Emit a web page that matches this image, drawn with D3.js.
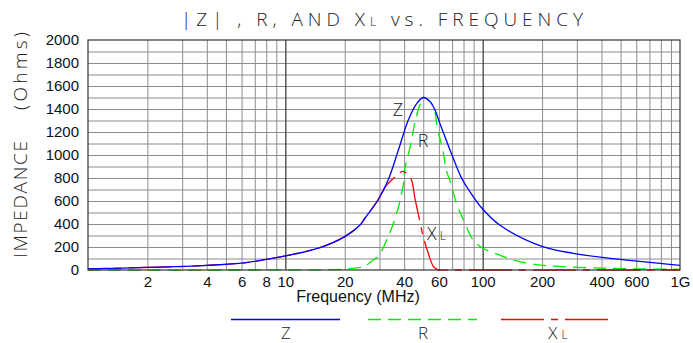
<!DOCTYPE html>
<html>
<head>
<meta charset="utf-8">
<script src="https://d3js.org/d3.v7.min.js"></script>
<style>
  html, body { margin: 0; padding: 0; background: #fff; }
  svg { display: block; }
  .thin { font-family: "Open Sans", "DejaVu Sans", sans-serif; font-weight: 300; fill: #222; }
  .num { font-family: "Liberation Sans", Arial, sans-serif; fill: #111; }
</style>
</head>
<body>
<svg id="chart" width="693" height="343"></svg>
<script>
// frequency in MHz, impedance in ohms
var zFreq = [1, 2, 4, 6, 8, 10, 15, 20, 23.9, 25.3, 29.5, 33.2, 37.4, 42, 46.4, 50, 54.1, 57.3, 60.7, 69.4, 78.3, 86.3, 100, 122, 200, 288, 425, 1000]
var zVals = [10, 22, 40, 60, 92, 122, 195, 290, 391, 450, 609, 783, 1043, 1304, 1449, 1500, 1464, 1391, 1275, 1014, 797, 680, 530, 391, 205, 145, 105, 40]

var rFreq = [1, 10, 18.9, 23.9, 25.3, 27.9, 29.5, 33.2, 36.7, 39.6, 40.3, 42.9, 45.3, 48.3, 50, 53, 56.3, 59.3, 63, 65.7, 68.1, 73.7, 81.3, 89.6, 100.4, 122, 142, 195, 425, 1000]
var rVals = [0, 1, 6, 22, 32, 87, 116, 290, 493, 740, 870, 1072, 1275, 1449, 1500, 1480, 1420, 1217, 1029, 855, 783, 580, 406, 261, 189, 130, 87, 43, 15, 6]

var xlFreq = [1, 2, 4, 6, 8, 10, 15, 20, 23.9, 25.3, 29.5, 32, 35.3, 37.5, 39.5, 41.5, 43.6, 45.3, 47.1, 50, 53, 56.3, 58.4, 60, 70, 1000]
var xlVals = [10, 22, 40, 60, 92, 122, 195, 290, 391, 450, 609, 720, 797, 840, 858, 835, 783, 630, 493, 290, 145, 29, 8, 0, 0, 0]

var yTicks = [0, 200, 400, 600, 800, 1000, 1200, 1400, 1600, 1800, 2000]
var xTicks = [2, 4, 6, 8, 10, 20, 40, 60, 100, 200, 400, 600, 1000]
var xTickText = ["2", "4", "6", "8", "10", "20", "40", "60", "100", "200", "400", "600", "1G"]

var svg = d3.select("#chart")
var pLeft = 88, pRight = 680, pTop = 40, pBottom = 270

var x = d3.scaleLog().domain([1, 1000]).range([pLeft, pRight])
var y = d3.scaleLinear().domain([0, 2000]).range([pBottom, pTop])

// grid
var minorX = []
;[1, 10, 100].forEach(function(dec) { for (var k = 2; k <= 9; k++) minorX.push(dec * k) })
var gridY = d3.range(100, 2000, 100)

svg.append("g").attr("transform", "translate(0," + pBottom + ")")
    .call(d3.axisBottom(x).tickValues(minorX).tickSize(-(pBottom - pTop)).tickFormat(""))
    .call(function(g) { g.select(".domain").remove() })
    .selectAll("line").attr("stroke", "#8c8c8c").attr("stroke-width", 1)

svg.append("g").attr("transform", "translate(" + pLeft + ",0)")
    .call(d3.axisLeft(y).tickValues(gridY).tickSize(-(pRight - pLeft)).tickFormat(""))
    .call(function(g) { g.select(".domain").remove() })
    .selectAll("line").attr("stroke", "#8c8c8c").attr("stroke-width", 1)

svg.append("g").attr("transform", "translate(0," + pBottom + ")")
    .call(d3.axisBottom(x).tickValues([10, 100]).tickSize(-(pBottom - pTop)).tickFormat(""))
    .call(function(g) { g.select(".domain").remove() })
    .selectAll("line").attr("stroke", "#333").attr("stroke-width", 1.2)

// curves
function series(fs, vs) { return fs.map(function(f, i) { return [f, vs[i]] }) }
var line = d3.line()
    .x(function(d) { return x(d[0]) })
    .y(function(d) { return y(d[1]) })
    .curve(d3.curveCatmullRom.alpha(0.5))

var plot = svg.append("g")

plot.append("path").datum(series(rFreq, rVals))
    .attr("d", line).attr("fill", "none")
    .attr("stroke", "#00ee00").attr("stroke-width", 1.3)
    .attr("stroke-dasharray", "13,7")

var xlPath = plot.append("path").datum(series(xlFreq, xlVals))
    .attr("d", line).attr("fill", "none")
    .attr("stroke", "#ff0000").attr("stroke-width", 1.3)
    .attr("stroke-dasharray", "43,7,7,7")

// put the short dash of the red pattern at the top of the X_L hump
var node = xlPath.node(), lo = 0, hi = node.getTotalLength()
var peakX = x(39.5)
for (var it = 0; it < 40; it++) {
    var mid = (lo + hi) / 2
    if (node.getPointAtLength(mid).x < peakX) lo = mid; else hi = mid
}
xlPath.attr("stroke-dashoffset", ((53.5 - lo) % 64 + 64) % 64)

plot.append("path").datum(series(zFreq, zVals))
    .attr("d", line).attr("fill", "none")
    .attr("stroke", "#0000ff").attr("stroke-width", 1.3)

// frame
svg.append("rect").attr("x", pLeft).attr("y", pTop)
    .attr("width", pRight - pLeft).attr("height", pBottom - pTop)
    .attr("fill", "none").attr("stroke", "#333").attr("stroke-width", 1.2)

// tick labels
svg.append("g").attr("transform", "translate(" + (pLeft - 9) + ",0)")
    .call(d3.axisLeft(y).tickValues(yTicks).tickSize(0).tickPadding(0).tickFormat(d3.format("d")))
    .call(function(g) { g.select(".domain").remove() })
    .selectAll("text").attr("font-size", 15).attr("fill", "#111")
    .attr("font-family", "Liberation Sans, Arial, sans-serif")

svg.append("g").attr("transform", "translate(0," + (pBottom + 6) + ")")
    .call(d3.axisBottom(x).tickValues(xTicks).tickSize(0).tickPadding(0)
        .tickFormat(function(d, i) { return xTickText[i] }))
    .call(function(g) { g.select(".domain").remove() })
    .selectAll("text").attr("font-size", 15).attr("fill", "#111")
    .attr("font-family", "Liberation Sans, Arial, sans-serif")

svg.append("text").attr("class", "num").attr("x", 358).attr("y", 302)
    .attr("text-anchor", "middle").attr("font-size", 16).text("Frequency (MHz)")

// title
var title = svg.append("text").attr("class", "thin").attr("x", 181).attr("y", 26)
    .attr("font-size", 19).attr("textLength", 402).attr("lengthAdjust", "spacing")
title.append("tspan").text("|Z|   ,  R,  AND  X")
title.append("tspan").attr("font-size", 12).text("L")
title.append("tspan").attr("font-size", 19).text("   vs.  FREQUENCY")

// y axis title
svg.append("text").attr("class", "thin").attr("font-size", 19)
    .attr("transform", "translate(27,258) rotate(-90)")
    .attr("textLength", 117).attr("lengthAdjust", "spacing").text("IMPEDANCE")
svg.append("text").attr("class", "thin").attr("font-size", 19)
    .attr("transform", "translate(27,110) rotate(-90)")
    .attr("textLength", 78).attr("lengthAdjust", "spacing").text("(Ohms)")

// curve labels
svg.append("text").attr("class", "thin").attr("font-size", 18)
    .attr("x", 398).attr("y", 116).attr("text-anchor", "middle").text("Z")
svg.append("text").attr("class", "thin").attr("font-size", 18)
    .attr("x", 423).attr("y", 147).attr("text-anchor", "middle").text("R")
var xl = svg.append("text").attr("class", "thin").attr("x", 427).attr("y", 240)
xl.append("tspan").attr("font-size", 18).text("X")
xl.append("tspan").attr("font-size", 12).attr("dx", 3).text("L")

// legend
var legend = [
    { x1: 231, x2: 340, color: "#0000ff", dash: null, label: "Z", cx: 286 },
    { x1: 368, x2: 477, color: "#00ee00", dash: "13,7", label: "R", cx: 423 },
    { x1: 501, x2: 610, color: "#ff0000", dash: "43,7,7,7", label: "X", cx: 558 }
]
legend.forEach(function(l) {
    svg.append("line").attr("x1", l.x1).attr("x2", l.x2).attr("y1", 319.5).attr("y2", 319.5)
        .attr("stroke", l.color).attr("stroke-width", 1.3).attr("stroke-dasharray", l.dash)
    var t = svg.append("text").attr("class", "thin").attr("font-size", 17)
        .attr("x", l.cx).attr("y", 339).attr("text-anchor", "middle")
    t.append("tspan").text(l.label)
    if (l.label == "X") t.append("tspan").attr("font-size", 12).attr("dx", 4).text("L")
})
</script>
</body>
</html>
